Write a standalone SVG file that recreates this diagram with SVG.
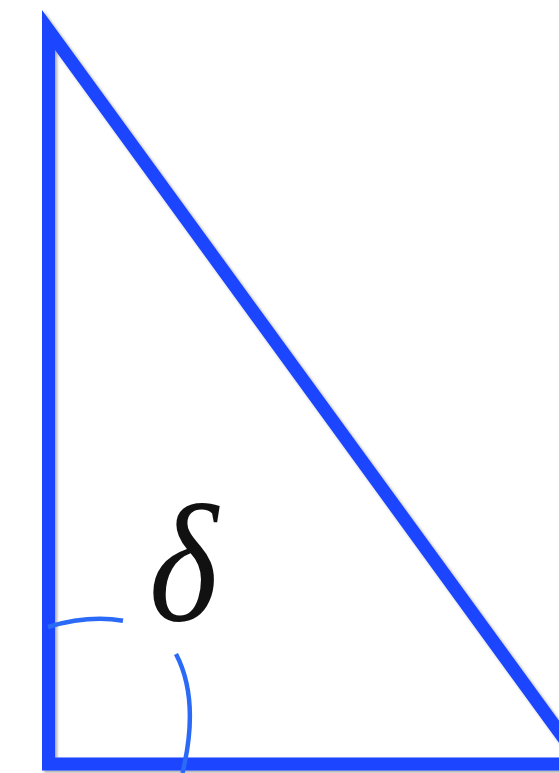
<svg xmlns="http://www.w3.org/2000/svg" width="559" height="773" viewBox="0 0 559 773">
  <defs>
    <filter id="shadow" x="-10%" y="-10%" width="130%" height="130%">
      <feDropShadow dx="2" dy="2" stdDeviation="1.5" flood-color="#000" flood-opacity="0.35"/>
    </filter>
    <style>
      .tri { fill: none; stroke: #1a44ff; stroke-width: 13; stroke-linejoin: miter; stroke-miterlimit: 10; }
      .arc { fill: none; stroke: #2a6af7; stroke-width: 4.5; stroke-linecap: butt; }
      .lbl { font-family: "Liberation Serif", "DejaVu Serif", serif; font-style: italic; fill: #111; }
    </style>
  </defs>
  <rect width="559" height="773" fill="#ffffff"/>
  <g id="triangle" filter="url(#shadow)">
    <polygon class="tri" points="48.5,30 48.5,764 582.5,764"/>
  </g>
  <g id="angle-arc">
    <path class="arc" d="M48,627 Q88,615 123,620.7"/>
    <path class="arc" d="M176,654 Q200,700 182.5,773"/>
  </g>
  <g id="label">
    <text class="lbl" transform="translate(149,620) scale(0.88,1)" x="0" y="0" font-size="168">δ</text>
  </g>
</svg>
